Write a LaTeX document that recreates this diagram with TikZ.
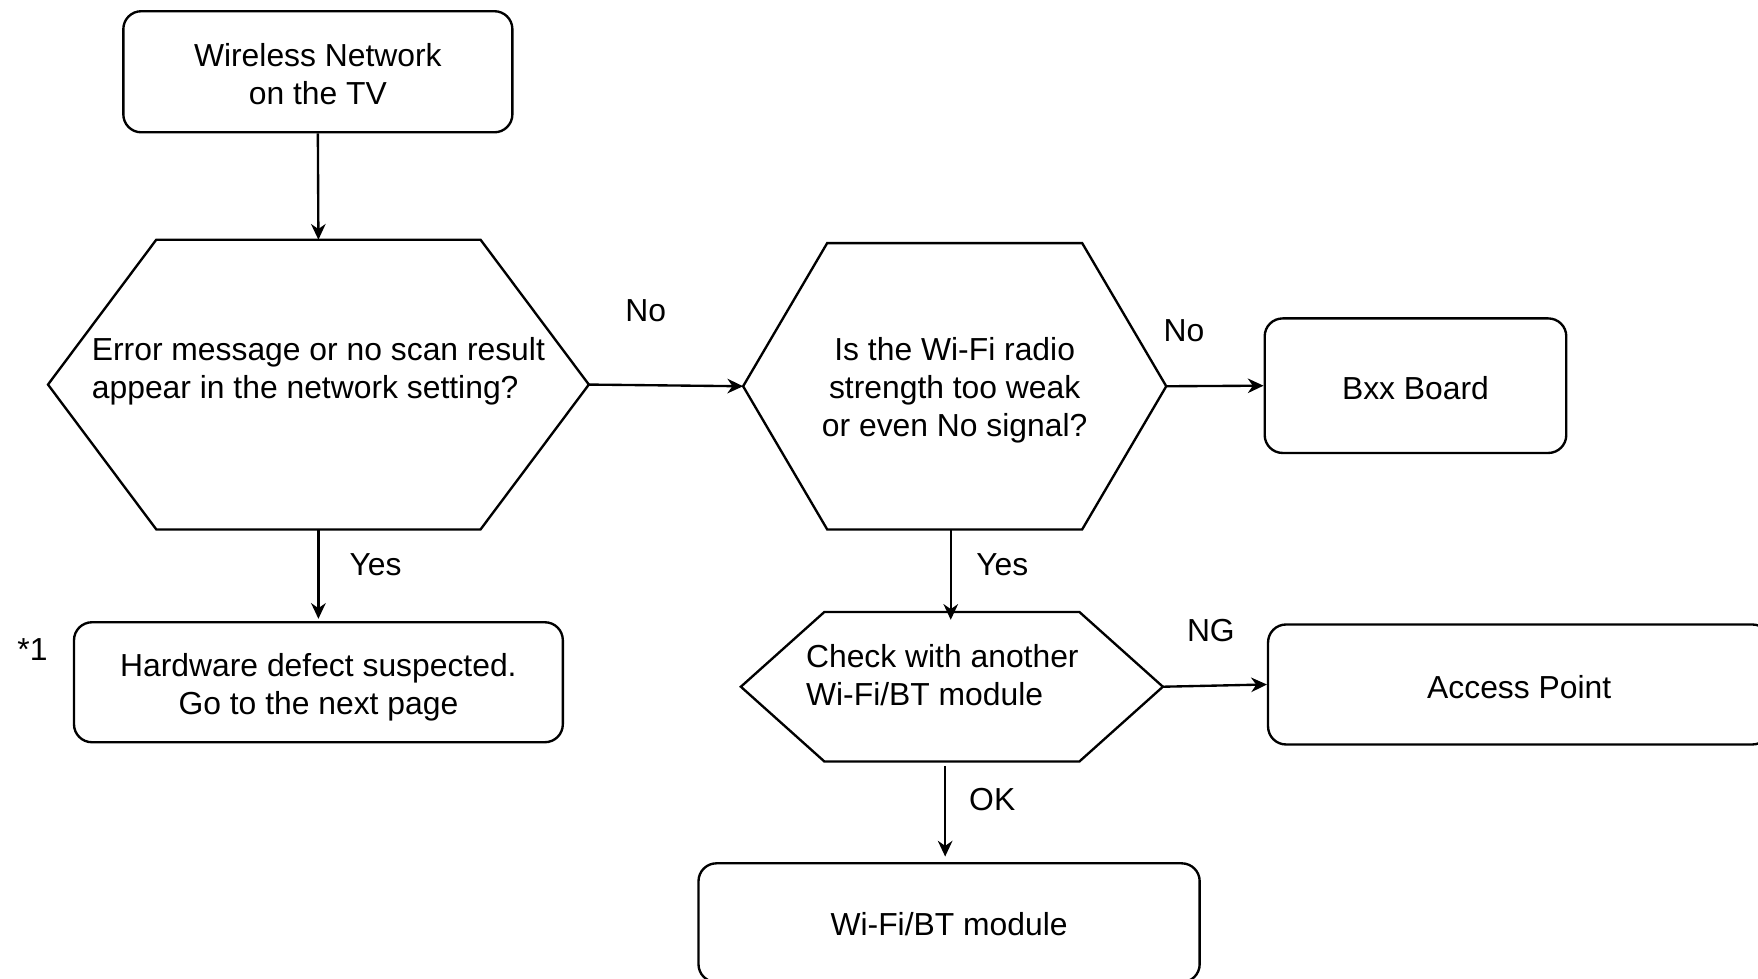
\documentclass[tikz,border=0pt]{standalone}
\usepackage{fontspec}
\setmainfont{Liberation Sans}
\usetikzlibrary{arrows.meta}
\begin{document}
\begin{tikzpicture}[x=1pt,y=-1pt,
  every node/.style={font=\fontsize{28.4}{34}\selectfont, inner sep=0pt},
  rbox/.style={draw, line width=2.1pt, rounded corners=16pt, align=center},
  area/.style={draw=none},
  ln/.style={line width=2.1pt, line join=miter},
  arr/.style={line width=2.1pt, -{Stealth[length=14pt,width=13pt,inset=4.5pt]}}
]
\useasboundingbox (0,0) rectangle (1568,873);

% boxes
\node[rbox, minimum width=347pt, minimum height=108pt] (top) at (283.5,64) {};
\node (ttop) at (283.5,66) [align=center] {Wireless Network\\on the TV};
\node[rbox, minimum width=436pt, minimum height=107pt] (hw) at (284,608.5) {};
\node (thw) at (284,613) [align=center] {Hardware defect suspected.\\Go to the next page};
\node[rbox, minimum width=269pt, minimum height=120pt] (bxx) at (1262.5,344) {};
\node (tbxx) at (1262.5,346) {Bxx Board};
\node[rbox, minimum width=448pt, minimum height=107pt] (ap) at (1355,610.5) {};
\node (tap) at (1355,613) {Access Point};
\node[rbox, minimum width=447pt, minimum height=106pt] (wifi) at (846.5,823) {};
\node (twifi) at (846.5,824) {Wi-Fi/BT module};

% hexagon 1
\node[area, minimum width=482pt, minimum height=258pt] (h1) at (284,343) {};
\draw[ln] (h1.west) -- ([xshift=96.6pt]h1.north west) -- ([xshift=-96.6pt]h1.north east) -- (h1.east)
  -- ([xshift=-96.6pt]h1.south east) -- ([xshift=96.6pt]h1.south west) -- cycle;
\node[align=left] (t1) at (284,331.5) {Error message or no scan result\\appear in the network setting?};

% hexagon 2
\node[area, minimum width=377pt, minimum height=255pt] (h2) at (851.5,344.5) {};
\draw[ln] (h2.west) -- ([xshift=75pt]h2.north west) -- ([xshift=-75pt]h2.north east) -- (h2.east)
  -- ([xshift=-75pt]h2.south east) -- ([xshift=75pt]h2.south west) -- cycle;
\node[align=center] (t2) at (851.5,348) {Is the Wi-Fi radio\\strength too weak\\or even No signal?};

% check hexagon
\node[area, minimum width=376pt, minimum height=133pt] (c1) at (849,612.5) {};
\draw[ln] (c1.west) -- ([xshift=74.5pt]c1.north west) -- ([xshift=-74.5pt]c1.north east) -- (c1.east)
  -- ([xshift=-74.5pt]c1.south east) -- ([xshift=74.5pt]c1.south west) -- cycle;
\node[align=left] (t3) at (840.5,602.5) {Check with another\\Wi-Fi/BT module};

% labels
\node (lno1) at (576,277) {No};
\node (lno2) at (1056,295) {No};
\node (lyes1) at (335,504) {Yes};
\node (lyes2) at (894,504) {Yes};
\node (lng) at (1080,562) {NG};
\node (lok) at (885,713) {OK};
\node (star) at (29,579) {*1};

% connectors
\draw[arr] (top.south) -- (h1.north);
\draw[arr] (h1.east) -- (h2.west);
\draw[arr] (h1.south) -- ([yshift=2pt]hw.north);
\draw[arr] (h2.east) -- (bxx.west);
\draw[arr] ([xshift=-3.5pt]h2.south) -- ([xshift=-1pt,yshift=-7pt]c1.north);
\draw[arr] (c1.east) -- (ap.west);
\draw[arr] ([xshift=-6pt,yshift=-4pt]c1.south) -- ([xshift=-3.5pt,yshift=5pt]wifi.north);
\end{tikzpicture}
\end{document}
